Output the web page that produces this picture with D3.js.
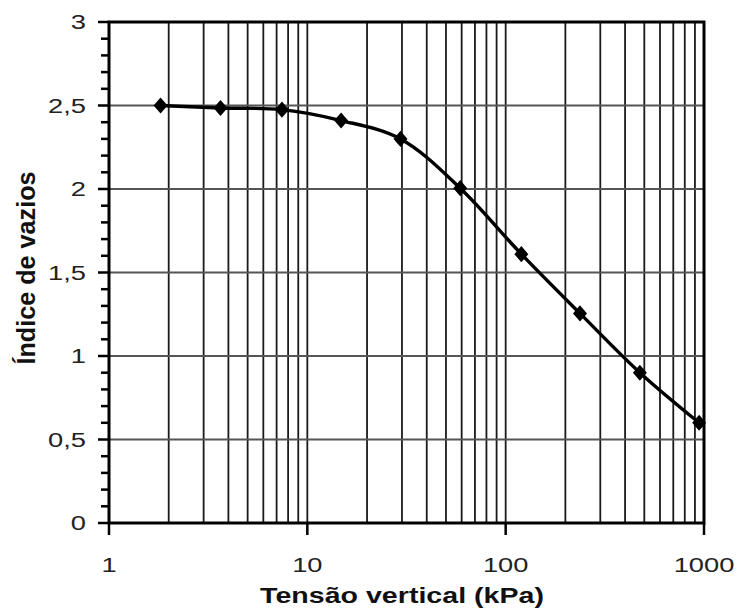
<!DOCTYPE html>
<html>
<head>
<meta charset="utf-8">
<script src="https://cdn.jsdelivr.net/npm/d3@7"></script>
<style>
  body { margin: 0; background: #fff; }
  svg { display: block; font-family: "Liberation Sans", Arial, sans-serif; }
</style>
</head>
<body>
<svg id="chart"></svg>
<script>
// data
const tensao = [1.82, 3.65, 7.45, 14.8, 29.5, 59, 120, 237, 475, 945];
const vazios = [2.50, 2.485, 2.475, 2.41, 2.30, 2.005, 1.61, 1.255, 0.90, 0.60];
const xTicks = [1, 10, 100, 1000];
const yTicks = [0, 0.5, 1, 1.5, 2, 2.5, 3];
const xTitle = "Tensão vertical  (kPa)";
const yTitle = "Índice de vazios";

const width = 738, height = 609;
const plotL = 109, plotR = 704, plotT = 22, plotB = 523;

const svg = d3.select("#chart")
    .attr("width", width)
    .attr("height", height);

const x = d3.scaleLog().domain([1, 1000]).range([plotL, plotR]);
const y = d3.scaleLinear().domain([0, 3]).range([plotB, plotT]);

// vertical grid on every log step
const xGrid = [];
for (let d = 1; d < 1000; d *= 10) {
    for (let k = 2; k <= 10; k++) xGrid.push(d * k);
}
svg.append("g")
    .selectAll("line")
    .data(xGrid.filter(v => v < 1000))
    .enter().append("line")
    .attr("x1", d => x(d)).attr("x2", d => x(d))
    .attr("y1", plotT).attr("y2", plotB)
    .attr("stroke", "#1a1a1a")
    .attr("stroke-width", 1.8);

// horizontal grid every 0.5
svg.append("g")
    .selectAll("line")
    .data(yTicks.filter(v => v > 0 && v < 3))
    .enter().append("line")
    .attr("x1", plotL).attr("x2", plotR)
    .attr("y1", d => y(d)).attr("y2", d => y(d))
    .attr("stroke", "#555")
    .attr("stroke-width", 1.8);

// y ticks (minor every 0.1)
const yMinor = d3.range(0, 31).map(i => i / 10);
svg.append("g")
    .selectAll("line")
    .data(yMinor)
    .enter().append("line")
    .attr("x1", d => (Math.round(d * 10) % 5 === 0) ? plotL - 11 : plotL - 8)
    .attr("x2", plotL)
    .attr("y1", d => y(d)).attr("y2", d => y(d))
    .attr("stroke", "#000")
    .attr("stroke-width", 2.5);

// x ticks
svg.append("g")
    .selectAll("line")
    .data(xTicks)
    .enter().append("line")
    .attr("x1", d => x(d)).attr("x2", d => x(d))
    .attr("y1", plotB).attr("y2", plotB + 12)
    .attr("stroke", "#000")
    .attr("stroke-width", 2.5);

// frame
svg.append("rect")
    .attr("x", plotL).attr("y", plotT)
    .attr("width", plotR - plotL).attr("height", plotB - plotT)
    .attr("fill", "none")
    .attr("stroke", "#000")
    .attr("stroke-width", 3);

// tick labels
svg.append("g")
    .selectAll("text")
    .data(yTicks)
    .enter().append("text")
    .attr("transform", d => `translate(86,${y(d) + 7}) scale(1.3,1)`)
    .attr("text-anchor", "end")
    .attr("font-size", 21)
    .attr("fill", "#222")
    .text(d => String(d).replace(".", ","));

svg.append("g")
    .selectAll("text")
    .data(xTicks)
    .enter().append("text")
    .attr("transform", d => `translate(${x(d)},572) scale(1.3,1)`)
    .attr("text-anchor", "middle")
    .attr("font-size", 21)
    .attr("fill", "#222")
    .text(d => d);

// axis titles
svg.append("text")
    .attr("transform", `translate(402,603) scale(1.3,1)`)
    .attr("text-anchor", "middle")
    .attr("font-size", 22)
    .attr("font-weight", "bold")
    .attr("fill", "#111")
    .text(xTitle);

svg.append("text")
    .attr("transform", `translate(35,268) rotate(-90) scale(1.2,1.2)`)
    .attr("text-anchor", "middle")
    .attr("font-size", 21)
    .attr("font-weight", "bold")
    .attr("fill", "#111")
    .text(yTitle);

// curve
const points = tensao.map((t, i) => ({ t: t, e: vazios[i] }));
const line = d3.line()
    .x(d => x(d.t))
    .y(d => y(d.e))
    .curve(d3.curveCatmullRom.alpha(0.5));

svg.append("path")
    .datum(points)
    .attr("d", line)
    .attr("fill", "none")
    .attr("stroke", "#000")
    .attr("stroke-width", 3.4);

svg.append("g")
    .selectAll("path")
    .data(points)
    .enter().append("path")
    .attr("transform", d => `translate(${x(d.t)},${y(d.e)}) scale(1.5,1)`)
    .attr("d", d3.symbol().type(d3.symbolDiamond).size(75))
    .attr("fill", "#000");
</script>
</body>
</html>
